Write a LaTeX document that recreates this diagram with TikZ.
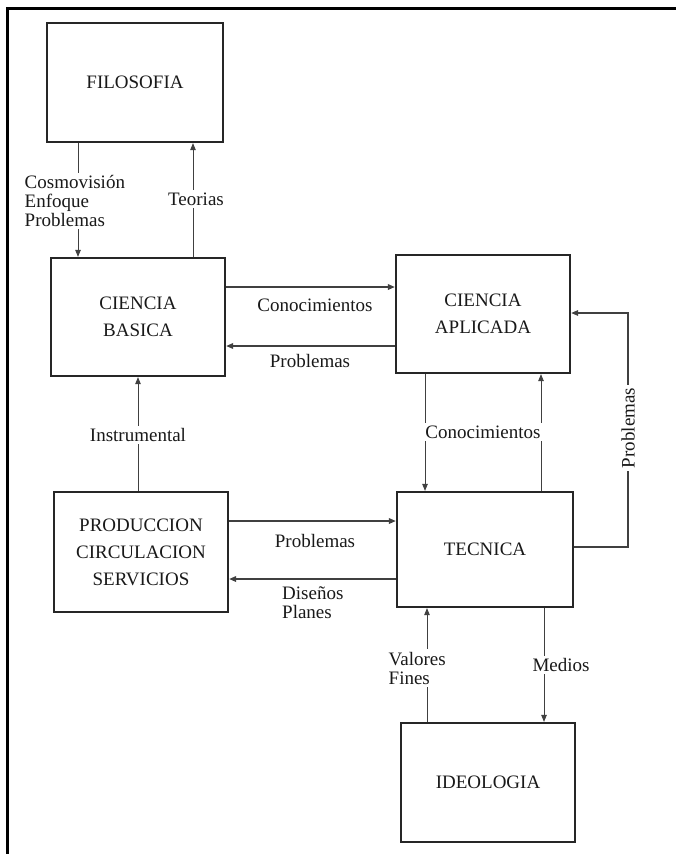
\documentclass[tikz,border=0pt]{standalone}
\usepackage{fontspec}
\setmainfont{Liberation Serif}
\usetikzlibrary{arrows.meta}
\begin{document}
\begin{tikzpicture}[x=1pt,y=-1pt,
  box/.style={draw=black!85,line width=2.2pt,minimum width=174pt,minimum height=118pt,
    align=center,text=black!90,font=\fontsize{19}{27}\selectfont},
  lbl/.style={font=\fontsize{19}{19}\selectfont,text=black!90,inner sep=1pt},
  gap/.style={fill=white,inner sep=2.5pt},
  conn/.style={draw=black!75,line width=1pt,-{Triangle[length=7pt,width=5.5pt]}}]
\useasboundingbox (0,0) rectangle (676,854);
% frame
\draw[line width=3pt,black] (7,854) -- (7,8) -- (676,8);
% boxes
\node[box,minimum width=176pt,minimum height=119pt] (fil) at (135,82.5) {FILOSOFIA};
\node[box] (cb) at (138,317) {CIENCIA\\BASICA};
\node[box] (ca) at (483,314) {CIENCIA\\APLICADA};
\node[box,minimum height=120pt] (pcs) at (141,552) {PRODUCCION\\CIRCULACION\\SERVICIOS};
\node[box,minimum width=176pt,minimum height=115pt] (tec) at (485,549.5) {TECNICA};
\node[box,minimum height=119pt] (ideo) at (488,782.5) {IDEOLOGIA};
% helper coordinates
\coordinate (xa) at (78,0);
\coordinate (xb) at (193,0);
\coordinate (ya) at (0,287);
\coordinate (yb) at (0,346);
\coordinate (xc) at (138,0);
\coordinate (xd) at (425,0);
\coordinate (xe) at (541,0);
\coordinate (yc) at (0,521);
\coordinate (yd) at (0,579);
\coordinate (c1) at (628,547);
\coordinate (c2) at (628,313);
\coordinate (xf) at (427,0);
\coordinate (xg) at (544,0);
% connectors
\draw[conn] (fil.south -| xa) -- (cb.north -| xa);
\draw[conn] (cb.north -| xb) -- (fil.south -| xb);
\draw[conn,line width=1.6pt] (cb.east |- ya) -- (ca.west |- ya);
\draw[conn,line width=1.6pt] (ca.west |- yb) -- (cb.east |- yb);
\draw[conn] (pcs.north -| xc) -- (cb.south -| xc);
\draw[conn] (ca.south -| xd) -- (tec.north -| xd);
\draw[conn] (tec.north -| xe) -- (ca.south -| xe);
\draw[conn,line width=1.6pt] (pcs.east |- yc) -- (tec.west |- yc);
\draw[conn,line width=1.6pt] (tec.west |- yd) -- (pcs.east |- yd);
\draw[conn,line width=1.4pt] (tec.east |- c1) -- (c1) -- (c2) -- (ca.east |- c2);
\draw[conn] (ideo.north -| xf) -- (tec.south -| xf);
\draw[conn] (tec.south -| xg) -- (ideo.north -| xg);
% labels
\node[lbl,gap,anchor=west,align=left] (lcos) at (22,201) {Cosmovisión\\Enfoque\\Problemas};
\node[lbl,gap] (lteo) at (196,199) {Teorias};
\node[lbl] (lcon1) at (315,305) {Conocimientos};
\node[lbl] (lpro1) at (310,361) {Problemas};
\node[lbl,gap] (lins) at (138,435) {Instrumental};
\node[lbl,gap] (lcon2) at (483,432) {Conocimientos};
\node[lbl,gap,rotate=90] (lpro2) at (628,428) {Problemas};
\node[lbl] (lpro3) at (315,541) {Problemas};
\node[lbl,anchor=west,align=left] (ldis) at (281,603) {Diseños\\Planes};
\node[lbl,gap,anchor=west,align=left] (lval) at (386,668) {Valores\\Fines};
\node[lbl,gap] (lmed) at (561,665) {Medios};
\end{tikzpicture}
\end{document}
